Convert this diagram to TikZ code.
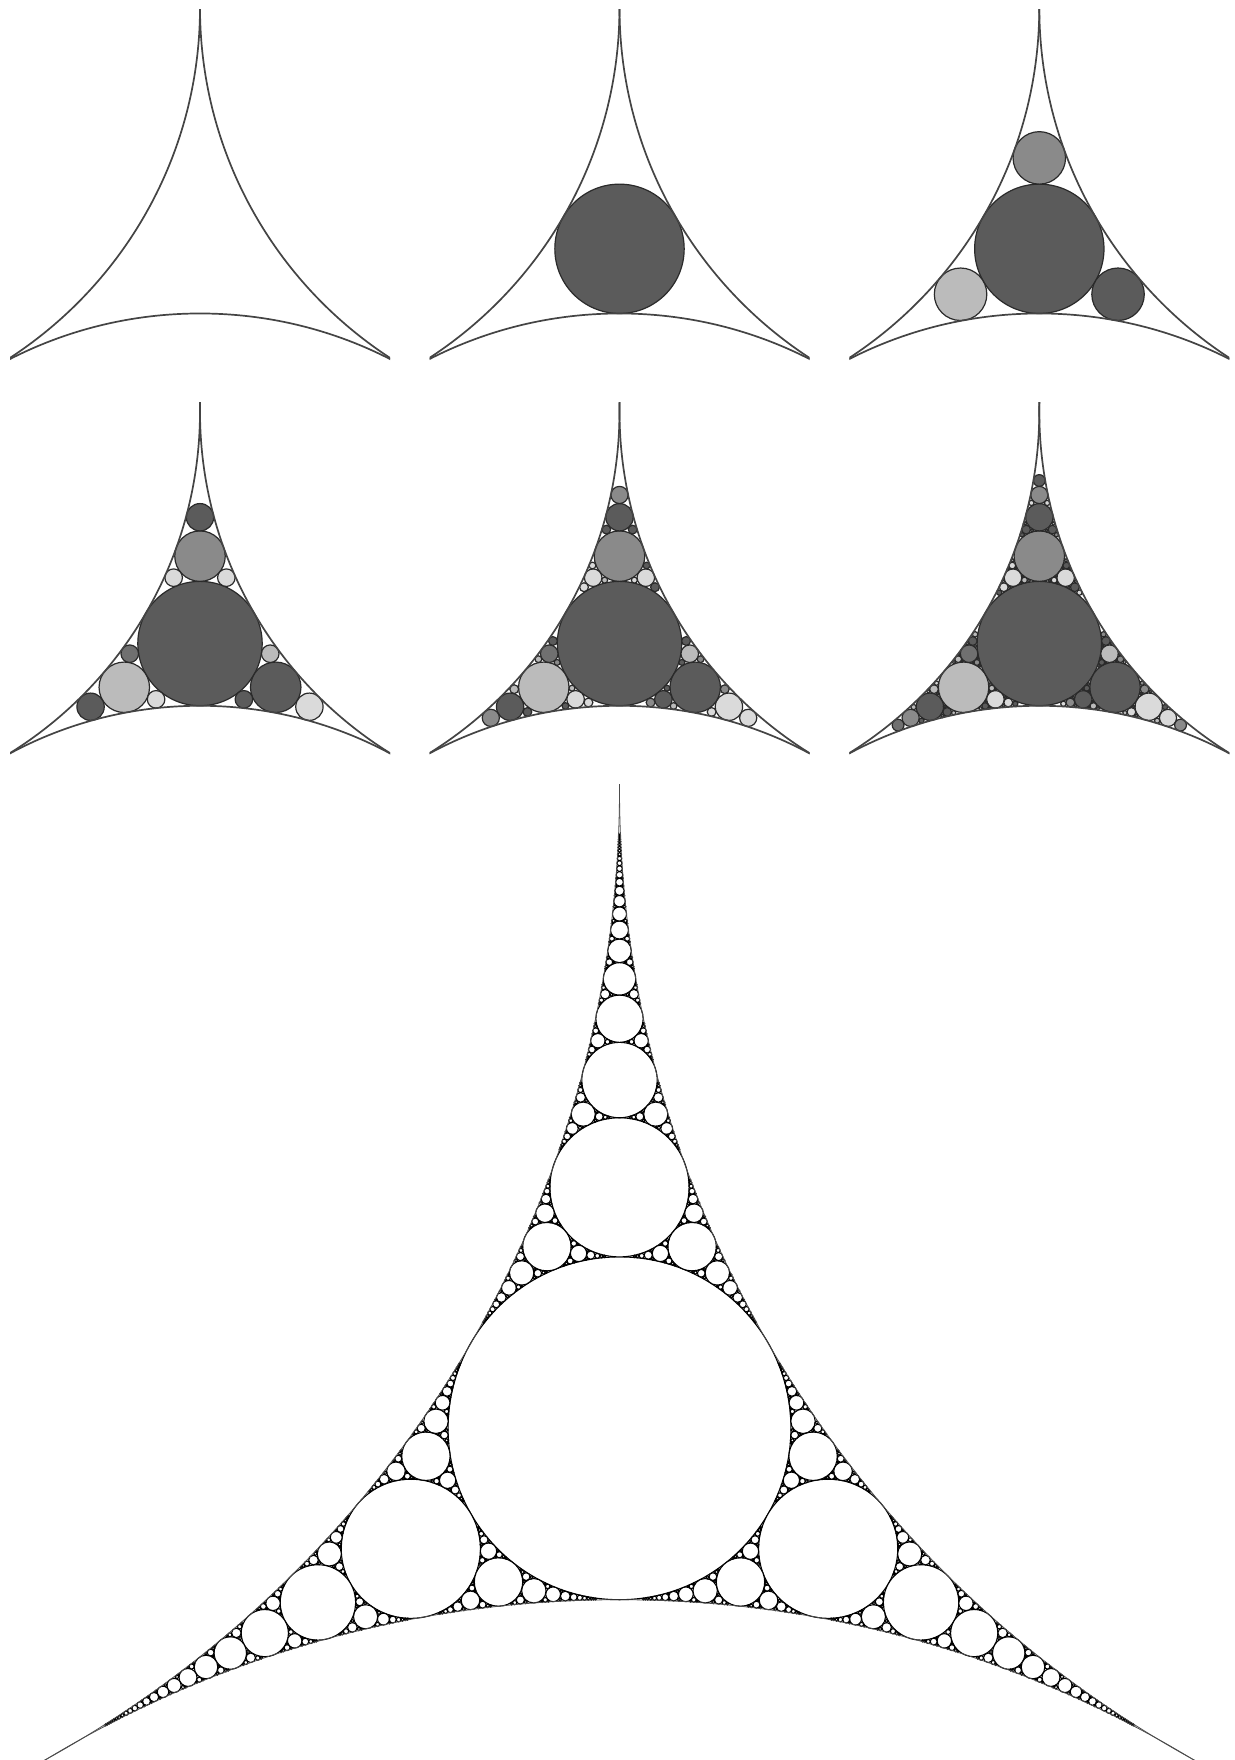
\documentclass[tikz,border=0pt]{standalone}
\definecolor{gc0}{HTML}{5B5B5B}
\definecolor{gc1}{HTML}{8A8A8A}
\definecolor{gc2}{HTML}{BBBBBB}
\definecolor{gc3}{HTML}{DADADA}
\definecolor{gc4}{HTML}{707070}
\definecolor{arcc}{HTML}{444444}
\definecolor{rimc}{HTML}{2A2A2A}
\tikzset{
  outerarc/.style={draw=arcc, line width=1.7pt},
  bigarc/.style={draw=black!70, line width=0.8pt}
}
\makeatletter
\edef\sqthree{\fpeval{sqrt(3)}}
\edef\kzero{\fpeval{3+2*sqrt(3)}}
\edef\kzeroy{\fpeval{2+sqrt(3)}}
\newif\ifapgray
\def\apmaxgen{0}\def\apmaxk{1000000}
\def\apox{0}\def\apoy{0}\def\apS{1}
% colours of the first generations
\@namedef{apc@O}{gc0}
\@namedef{apc@T}{gc1}\@namedef{apc@L}{gc2}\@namedef{apc@R}{gc0}
\@namedef{apc@T1}{gc0}\@namedef{apc@T2}{gc3}\@namedef{apc@T3}{gc3}
\@namedef{apc@L1}{gc0}\@namedef{apc@L2}{gc4}\@namedef{apc@L3}{gc3}
\@namedef{apc@R1}{gc3}\@namedef{apc@R2}{gc2}\@namedef{apc@R3}{gc0}
\@namedef{apc@T11}{gc1}\@namedef{apc@L11}{gc1}\@namedef{apc@R11}{gc3}
\@namedef{apc@T111}{gc0}\@namedef{apc@L111}{gc4}\@namedef{apc@R111}{gc1}
\newcommand\apdraw[1]{%
  \edef\apr{\fpeval{\apS/\Nk}}%
  \edef\apX{\fpeval{\apox+\apS*\Nx/\Nk}}%
  \edef\apY{\fpeval{1760-\apoy-\apS*\Ny/\Nk}}%
  \ifapgray
    \ifcsname apc@#1\endcsname
      \edef\apcol{\csname apc@#1\endcsname}%
    \else
      \edef\aphash{\fpeval{abs(\Nk*37.17+\Nx*11.31)}}%
      \edef\apcol{gc\fpeval{floor(\aphash-4*floor(\aphash/4))}}%
    \fi
  \else
    \def\apcol{white}%
  \fi
  \pgfsetfillcolor{\apcol}%
  \pgfpathcircle{\pgfpoint{\apX pt}{\apY pt}}{\apr pt}%
  \pgfusepath{fill,stroke}%
}
\newcommand\apstep[2]{%
  \ifnum#1>\apmaxgen\relax\else
    \edef\Nk{\fpeval{2*(\Ak+\Bk+\Ck)-\Dk}}%
    \ifnum\fpeval{\Nk>\apmaxk}=1 \else
      \edef\Nx{\fpeval{2*(\Ax+\Bx+\Cx)-\Dx}}%
      \edef\Ny{\fpeval{2*(\Ay+\By+\Cy)-\Dy}}%
      \apdraw{#2}%
      \edef\apnext{\the\numexpr#1+1\relax}%
      \begingroup
        \let\Dk\Ck\let\Dx\Cx\let\Dy\Cy
        \let\Ck\Nk\let\Cx\Nx\let\Cy\Ny
        \edef\aptmp{\noexpand\apstep{\apnext}{#21}}\aptmp
      \endgroup
      \begingroup
        \let\Dk\Bk\let\Dx\Bx\let\Dy\By
        \let\Bk\Nk\let\Bx\Nx\let\By\Ny
        \edef\aptmp{\noexpand\apstep{\apnext}{#22}}\aptmp
      \endgroup
      \begingroup
        \let\Dk\Ak\let\Dx\Ax\let\Dy\Ay
        \let\Ak\Nk\let\Ax\Nx\let\Ay\Ny
        \edef\aptmp{\noexpand\apstep{\apnext}{#23}}\aptmp
      \endgroup
    \fi
  \fi}
\newcommand\gasketrun{%
  \begingroup
  \let\Nk\kzero\def\Nx{0}\let\Ny\kzeroy
  \ifnum\apmaxgen>-1 \apdraw{O}\fi
  \endgroup
  % top gap: L, R, D0, opposite bottom circle
  \begingroup
    \def\Ak{1}\def\Ax{-1}\def\Ay{0}%
    \def\Bk{1}\def\Bx{1}\def\By{0}%
    \let\Ck\kzero\def\Cx{0}\let\Cy\kzeroy
    \def\Dk{1}\def\Dx{0}\let\Dy\sqthree
    \apstep{1}{T}%
  \endgroup
  % lower left gap: L, bottom, D0, opposite R
  \begingroup
    \def\Ak{1}\def\Ax{-1}\def\Ay{0}%
    \def\Bk{1}\def\Bx{0}\let\By\sqthree
    \let\Ck\kzero\def\Cx{0}\let\Cy\kzeroy
    \def\Dk{1}\def\Dx{1}\def\Dy{0}%
    \apstep{1}{L}%
  \endgroup
  % lower right gap: R, bottom, D0, opposite L
  \begingroup
    \def\Ak{1}\def\Ax{1}\def\Ay{0}%
    \def\Bk{1}\def\Bx{0}\let\By\sqthree
    \let\Ck\kzero\def\Cx{0}\let\Cy\kzeroy
    \def\Dk{1}\def\Dx{-1}\def\Dy{0}%
    \apstep{1}{R}%
  \endgroup
}
% #1 centre x, #2 cusp y, #3 radius, #4 clip top, #5 clip bottom, #6 last generation
\newcommand\appanel[6]{%
  \begin{scope}
    \clip (#1-190,1760-#4) rectangle (#1+190,1760-#5);
    \def\apox{#1}\def\apoy{#2}\def\apS{#3}\def\apmaxgen{#6}\def\apmaxk{1000000}%
    \apgraytrue
    \ifnum#6>-1
      \pgfsetlinewidth{1.2pt}\pgfsetstrokecolor{rimc}%
      \gasketrun
    \fi
    \draw[outerarc] (#1-#3,1760-#2) circle[radius=#3];
    \draw[outerarc] (#1+#3,1760-#2) circle[radius=#3];
    \draw[outerarc] (#1,1760-#2-1.7320508*#3) circle[radius=#3];
  \end{scope}}
\makeatother
\begin{document}
\begin{tikzpicture}[x=1pt,y=1pt]
\useasboundingbox (0,0) rectangle (1234,1760);
\fill[white] (0,0) rectangle (1234,1760);
\appanel{200}{7.5}{418}{10}{365}{-1}
\appanel{619.5}{7.5}{418}{10}{365}{0}
\appanel{1039.3}{7.5}{418}{10}{365}{1}
\appanel{200}{411.5}{402}{403}{760}{2}
\appanel{619.5}{411.5}{402}{403}{760}{3}
\appanel{1039.3}{411.5}{402}{403}{760}{4}
\begin{scope}
  \clip (0,1760-785) rectangle (1234,0);
  \def\apox{619.5}\def\apoy{788.6}\def\apS{1108}\def\apmaxgen{200}\def\apmaxk{1230}%
  \apgrayfalse
  \pgfsetlinewidth{1.1pt}\pgfsetstrokecolor{black}%
  \gasketrun
  \draw[bigarc] (619.5-1108,1760-788.6) circle[radius=1108];
  \draw[bigarc] (619.5+1108,1760-788.6) circle[radius=1108];
  \draw[bigarc] (619.5,1760-788.6-1.7320508*1108) circle[radius=1108];
\end{scope}
\end{tikzpicture}
\end{document}
